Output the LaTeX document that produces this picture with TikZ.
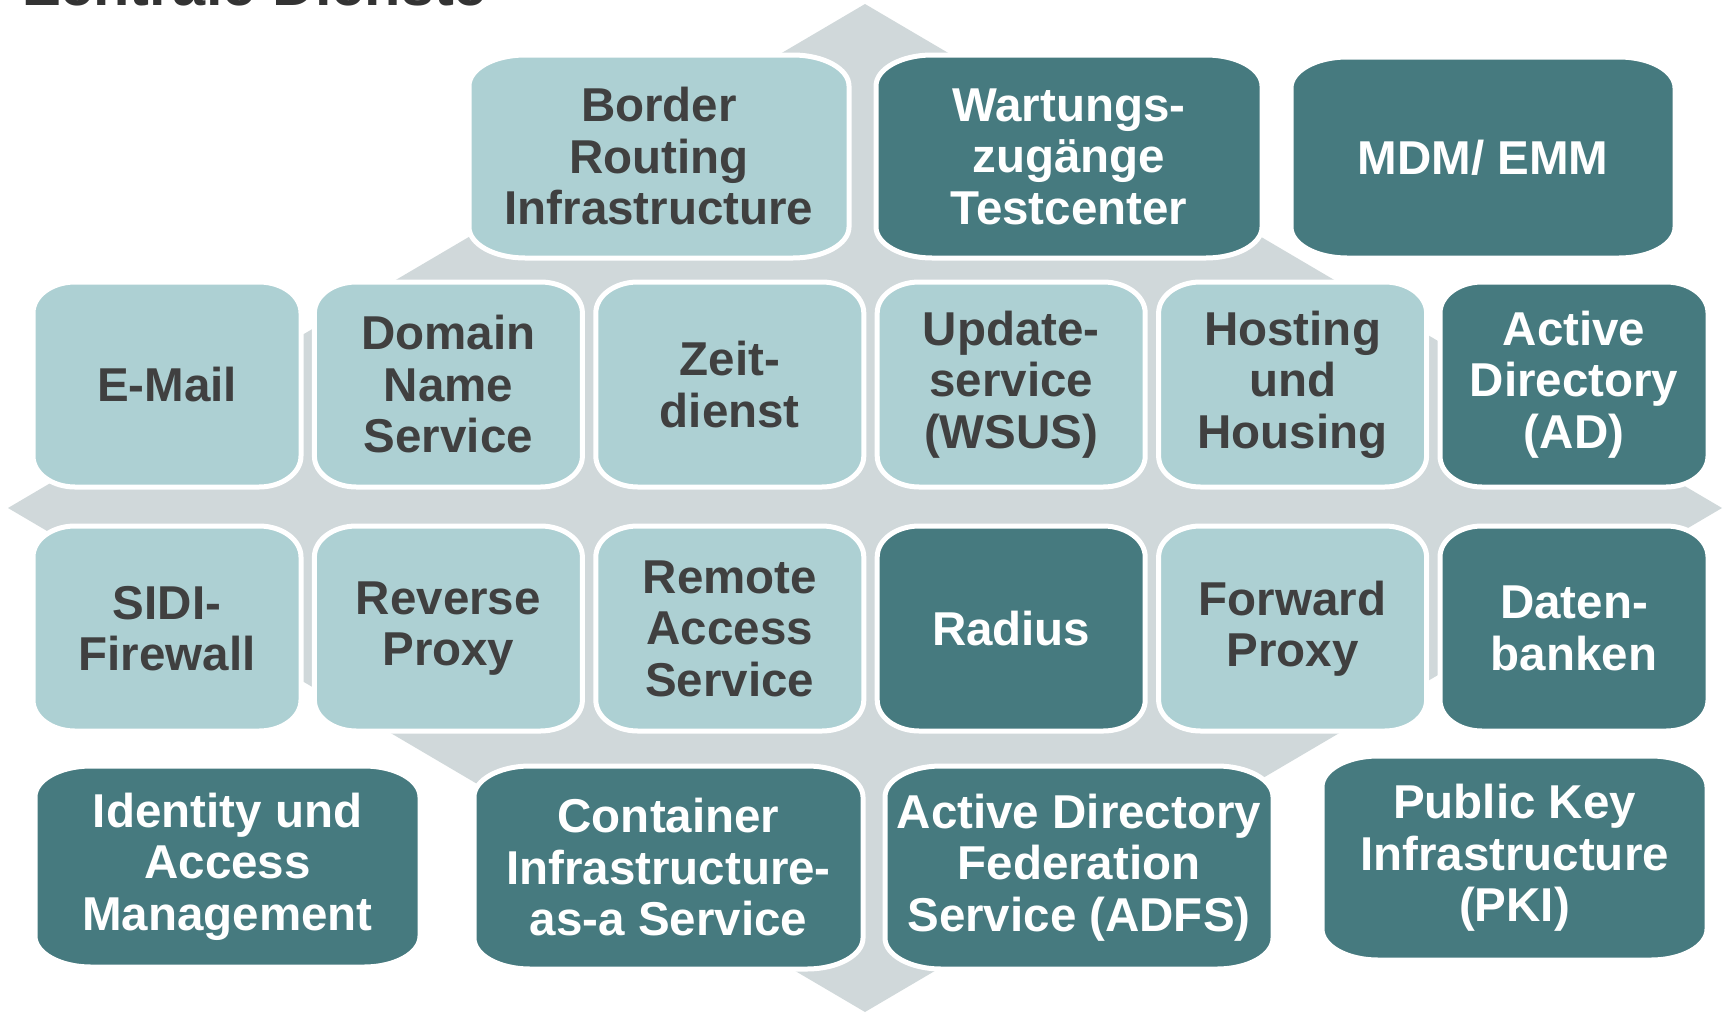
\documentclass[tikz,border=0pt]{standalone}
\usepackage{fontspec}
\setmainfont{Liberation Sans}
\definecolor{diam}{HTML}{D0D8DA}
\definecolor{lightbox}{HTML}{ADD0D3}
\definecolor{darkbox}{HTML}{467A7F}
\definecolor{txtdark}{HTML}{404040}
% #1 name, #2 x1, #3 y1, #4 x2, #5 y2, #6 rx, #7 ry, #8 style, #9 text
\newcommand\ebox[9]{%
  \path[boxpath, #8fill] ({#2+#6},#3) -- ({#4-#6},#3)
    arc[start angle=90, end angle=0, x radius=#6pt, y radius=#7pt]
    -- (#4,{#5-#7})
    arc[start angle=0, end angle=-90, x radius=#6pt, y radius=#7pt]
    -- ({#2+#6},#5)
    arc[start angle=-90, end angle=-180, x radius=#6pt, y radius=#7pt]
    -- (#2,{#3+#7})
    arc[start angle=180, end angle=90, x radius=#6pt, y radius=#7pt]
    -- cycle;
  \node[boxtext, #8text] (#1) at ({(#2+#4)/2},{(#3+#5)/2}) {#9};%
}
\begin{document}
\begin{tikzpicture}[x=1pt,y=-1pt,
  boxpath/.style={draw=white, line width=5pt},
  lightfill/.style={fill=lightbox},
  darkfill/.style={fill=darkbox},
  lighttext/.style={text=txtdark},
  darktext/.style={text=white},
  boxtext/.style={inner sep=0pt, align=center,
    font=\bfseries\fontsize{47.5}{51.5}\selectfont},
]
\useasboundingbox (0,0) rectangle (1723,1012);
% background diamond
\fill[diam] (8,508) -- (865,4) -- (1722,508) -- (865,1012) -- cycle;
% title (cut off at top)
\node[anchor=base west, inner sep=0pt, text=txtdark!80!black,
  font=\bfseries\fontsize{59.5}{62}\selectfont] (title) at (24,5) {Zentrale Dienste};
% row 1
\ebox{border}{469}{55}{849}{258}{56}{31}{light}{Border\\Routing\\Infrastructure}
\ebox{wart}{876}{55}{1262}{258}{56}{31}{dark}{Wartungs-\\zugänge\\Testcenter}
\ebox{mdm}{1291}{57}{1675}{258}{56}{31}{dark}{MDM/ EMM}
% row 2
\ebox{email}{33}{282}{301}{487}{42}{31}{light}{E-Mail}
\ebox{dns}{314.4}{282}{582.4}{487}{42}{31}{light}{Domain\\Name\\Service}
\ebox{zeit}{595.8}{282}{863.8}{487}{42}{31}{light}{Zeit-\\dienst}
\ebox{update}{877.2}{282}{1145.2}{487}{42}{31}{light}{Update-\\service\\(WSUS)}
\ebox{hosting}{1158.6}{282}{1426.6}{487}{42}{31}{light}{Hosting\\und\\Housing}
\ebox{ad}{1440}{282}{1708}{487}{42}{31}{dark}{Active\\Directory\\(AD)}
% row 3
\ebox{sidi}{33}{526}{301}{731}{42}{31}{light}{SIDI-\\Firewall}
\ebox{rproxy}{314.4}{526}{582.4}{731}{42}{31}{light}{Reverse\\Proxy}
\ebox{ras}{595.8}{526}{863.8}{731}{42}{31}{light}{Remote\\Access\\Service}
\ebox{radius}{877.2}{526}{1145.2}{731}{42}{31}{dark}{Radius}
\ebox{fproxy}{1158.6}{526}{1426.6}{731}{42}{31}{light}{Forward\\Proxy}
\ebox{db}{1440}{526}{1708}{731}{42}{31}{dark}{Daten-\\banken}
% row 4
\ebox{iam}{35}{766}{420}{967}{56}{31}{dark}{Identity und\\Access\\Management}
\ebox{cont}{474}{766}{863}{969}{56}{31}{dark}{Container\\Infrastructure-\\as-a Service}
\ebox{adfs}{885}{766}{1273}{969}{56}{31}{dark}{Active Directory\\Federation\\Service (ADFS)}
\ebox{pki}{1322}{756}{1707}{960}{56}{31}{dark}{Public Key\\Infrastructure\\(PKI)}
\end{tikzpicture}
\end{document}
